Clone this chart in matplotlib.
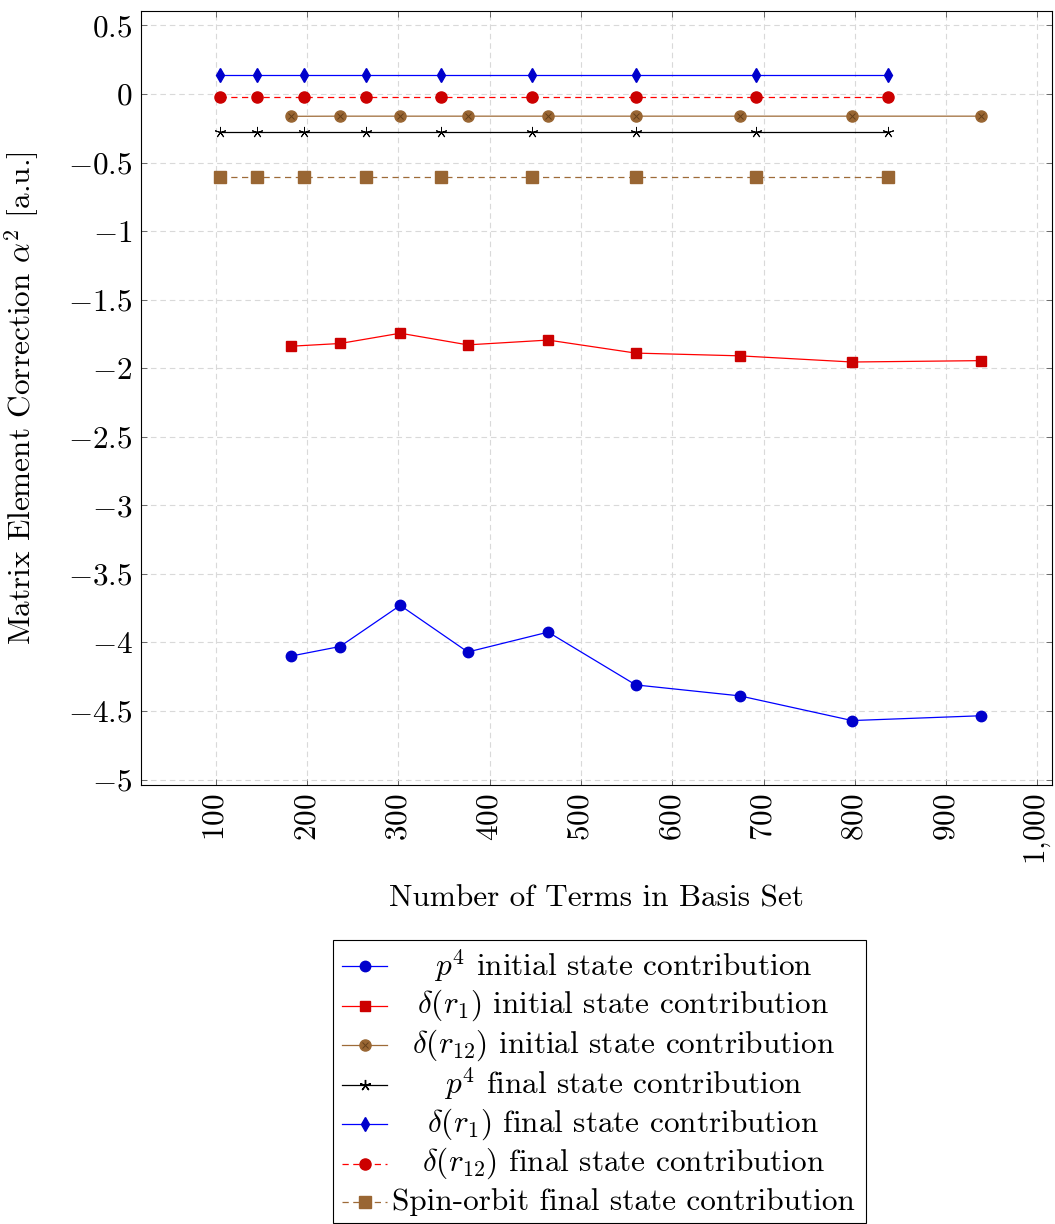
import numpy as np
import matplotlib
matplotlib.use("Agg")
import matplotlib.pyplot as plt
from matplotlib.lines import Line2D
from matplotlib.patches import Rectangle

plt.rcParams['font.family'] = 'serif'
plt.rcParams['font.serif'] = ['cmr10']
plt.rcParams['mathtext.fontset'] = 'cm'
plt.rcParams['axes.unicode_minus'] = False

# basis set sizes
x_initial = [182, 236, 302, 376, 464, 560, 674, 797, 938]
x_final = [104, 145, 197, 265, 347, 446, 560, 692, 836]

# matrix element corrections (a.u.)
p4_initial = [-4.10, -4.03, -3.73, -4.07, -3.925, -4.31, -4.39, -4.57, -4.535]
dr1_initial = [-1.84, -1.82, -1.745, -1.83, -1.795, -1.89, -1.91, -1.955, -1.945]
dr12_initial = [-0.163, -0.162, -0.162, -0.162, -0.162, -0.162, -0.162, -0.162, -0.162]
p4_final = [-0.277, -0.277, -0.277, -0.277, -0.277, -0.277, -0.277, -0.277, -0.277]
dr1_final = [0.138, 0.138, 0.138, 0.138, 0.138, 0.138, 0.138, 0.138, 0.138]
dr12_final = [-0.02, -0.02, -0.02, -0.02, -0.02, -0.02, -0.02, -0.02, -0.02]
so_final = [-0.605, -0.605, -0.605, -0.605, -0.605, -0.605, -0.605, -0.605, -0.605]

x_ticks = [100, 200, 300, 400, 500, 600, 700, 800, 900, 1000]
x_ticklabels = ['$100$', '$200$', '$300$', '$400$', '$500$', '$600$', '$700$',
                '$800$', '$900$', '$1{,}000$']
y_ticks = [0.5, 0, -0.5, -1, -1.5, -2, -2.5, -3, -3.5, -4, -4.5, -5]
y_ticklabels = ['$0.5$', '$0$', '$-0.5$', '$-1$', '$-1.5$', '$-2$', '$-2.5$',
                '$-3$', '$-3.5$', '$-4$', '$-4.5$', '$-5$']

blue = (0, 0, 1)
red = (1, 0, 0)
brown = (0.62, 0.42, 0.22)
blue_m = (0, 0, 0.8)
red_m = (0.8, 0, 0)
brown_m = (0.6, 0.4, 0.2)

dash = (0, (5, 3.6))
FS = 22.5

series = [
    (x_initial, p4_initial, r'$p^4$ initial state contribution',
     dict(color=blue, ls='-', marker='o', mfc=blue_m, mec=blue_m, ms=7.5)),
    (x_initial, dr1_initial, r'$\delta(r_1)$ initial state contribution',
     dict(color=red, ls='-', marker='s', mfc=red_m, mec=red_m, ms=7.5)),
    (x_initial, dr12_initial, r'$\delta(r_{12})$ initial state contribution',
     dict(color=brown, ls='-', marker='o', mfc=brown_m, mec=brown_m, ms=8)),
    (x_final, p4_final, r'$p^4$ final state contribution',
     dict(color='black', ls='-', marker=(5, 2, 0), mfc='black', mec='black', ms=8, mew=0.7)),
    (x_final, dr1_final, r'$\delta(r_1)$ final state contribution',
     dict(color=blue, ls='-', marker='d', mfc=blue_m, mec=blue_m, ms=7.5)),
    (x_final, dr12_final, r'$\delta(r_{12})$ final state contribution',
     dict(color=red, ls=dash, marker='o', mfc=red_m, mec=red_m, ms=8)),
    (x_final, so_final, r'Spin-orbit final state contribution',
     dict(color=brown, ls=dash, marker='s', mfc=brown_m, mec=brown_m, ms=8)),
]

fig = plt.figure(figsize=(10.55, 12.24), dpi=100)
ax = fig.add_axes([141 / 1055, 1 - 785 / 1224, 911 / 1055, 774 / 1224])

for xs, ys, label, st in series:
    ax.plot(xs, ys, lw=0.9, **st)
# otimes look for the delta(r12) initial markers
ax.plot(x_initial, dr12_initial, ls='none', marker='x', ms=5, mew=0.7, color=(0.4, 0.25, 0.1))

ax.set_xlim(18, 1016)
ax.set_ylim(-5.04, 0.605)
ax.set_xticks(x_ticks)
ax.set_xticklabels(x_ticklabels, rotation=90, fontsize=FS)
ax.set_yticks(y_ticks)
ax.set_yticklabels(y_ticklabels, fontsize=FS)
ax.tick_params(direction='in', length=4, width=0.6, top=True, right=True, pad=6,
               color='#555555')
ax.grid(True, ls=(0, (5, 3.5)), color='#d9d9d9', lw=0.8)
ax.set_axisbelow(True)
for s in ax.spines.values():
    s.set_linewidth(0.8)

ax.set_xlabel('Number of Terms in Basis Set', fontsize=FS)
ax.xaxis.set_label_coords(0.5, -0.128)
ax.set_ylabel(r'Matrix Element Correction $\alpha^2$ [a.u.]', fontsize=FS)
ax.yaxis.set_label_coords(-0.109, 0.5)

# legend drawn by hand so the text is centred like pgfplots
W, H = 1055, 1224
fig.patches.append(Rectangle((333 / W, 1 - 1223 / H), 533 / W, 283 / H,
                             transform=fig.transFigure, fill=False, lw=0.8,
                             ec='black'))
row_y = [966, 1005.5, 1045, 1084.5, 1124, 1163.5, 1202]
for (xs, ys, label, st), py in zip(series, row_y):
    yy = 1 - py / H
    fig.add_artist(Line2D([342 / W, 387 / W], [yy, yy], transform=fig.transFigure,
                          lw=0.9, **st, markevery=[]))
    fig.add_artist(Line2D([364.5 / W], [yy], transform=fig.transFigure,
                          ls='none', marker=st['marker'], mfc=st['mfc'],
                          mec=st['mec'], ms=st['ms']))
    if 'r_{12}' in label and 'initial' in label:
        fig.add_artist(Line2D([364.5 / W], [yy], transform=fig.transFigure,
                              ls='none', marker='x', ms=5, mew=0.7,
                              color=(0.4, 0.25, 0.1)))
    fig.text(623 / W, yy, label, ha='center', va='center', fontsize=FS)

fig.savefig('out.png', dpi=100)
